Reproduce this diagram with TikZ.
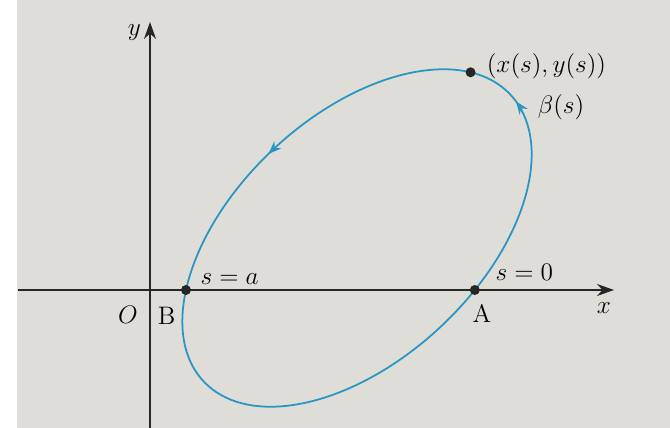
\documentclass[tikz,border=0pt]{standalone}
\usepackage{amsmath}
\usepackage{xcolor}
\usepackage{tikz}
\usetikzlibrary{arrows.meta, positioning, calc, intersections, decorations.markings}
\definecolor{curveblue}{RGB}{40,150,195}
\definecolor{paper}{RGB}{222,221,216}

\begin{document}
\begin{tikzpicture}[
    x=0.02cm, y=0.02cm,
    every node/.style={font=\Large, inner sep=1pt},
    axis/.style={line width=1pt, draw=black!85, -{Stealth[length=3.4mm, width=2.4mm]}},
    curve/.style={line width=1pt, draw=curveblue},
    dot/.style={circle, fill=black!85, inner sep=0pt, minimum size=2mm},
    flow/.style={postaction={decorate}, decoration={markings,
        mark=at position 0.242 with {\arrow[curveblue]{Stealth[length=2.6mm, width=2mm]}},
        mark=at position 0.507 with {\arrow[curveblue]{Stealth[length=2.6mm, width=2mm]}}}}
]
    % paper
    \fill[white] (0,0) rectangle (670,428);
    \fill[paper] (17,0) rectangle (670,428);
    \useasboundingbox (0,0) rectangle (670,428);

    \coordinate (O) at (150,138);
    \coordinate (xs) at (18,138);
    \coordinate (xe) at (614,138);
    \coordinate (ys) at (150,0);
    \coordinate (ye) at (150,406);
    \coordinate (c) at (357,190);

    \draw[axis, name path=xax] (xs) -- (xe);
    \draw[axis] (ys) -- (ye);

    % the closed curve
    \begin{scope}[shift={(c)}, rotate=43]
        \draw[curve, flow, name path global=ell] (0,-122) arc[start angle=-90, end angle=270, x radius=4.2cm, y radius=2.44cm];
        \node (P) [dot] at ({210*cos(21)}, {122*sin(21)}) {};
    \end{scope}

    \path[name intersections={of=ell and xax, sort by=ell, by={iA,iB}}];
    \node (A) [dot] at (iA) {};
    \node (B) [dot] at (iB) {};

    \node (ylab) [left=4pt of ye, yshift=-6pt] {$y$};
    \node (xlab) [below=6pt of xe, xshift=-5.7pt] {$x$};
    \node (olab) [below=8pt of O, xshift=-12.5pt] {$O$};
    \node (blab) [below=5.5pt of B, xshift=-11pt] {B};
    \node (alab) [below=3.8pt of A, xshift=4pt] {A};
    \node (sa) [above right=0pt and 5pt of B] {$s=a$};
    \node (s0) [above right=1.8pt and 8.5pt of A] {$s=0$};
    \node (plab) [right=5pt of P, yshift=3.5pt] {$(x(s),y(s))$};
    \node (beta) [below right=9.4pt and 35pt of P] {$\beta(s)$};
\end{tikzpicture}
\end{document}
